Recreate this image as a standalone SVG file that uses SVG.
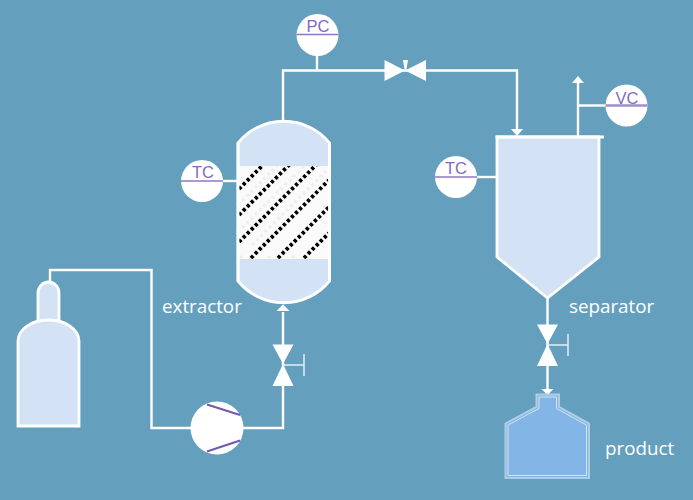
<svg xmlns="http://www.w3.org/2000/svg" width="693" height="500" viewBox="0 0 693 500">
<style>
.pipe{fill:none;stroke:#fff;stroke-width:2.4}
.vessel{fill:#d3e3f5;stroke:#fff;stroke-width:2.8}
.w{fill:#fff}
.lbl{font-family:"Open Sans","Noto Sans",sans-serif;font-size:18.800px;fill:#fff}
.inst{font-family:"Liberation Sans",Arial,sans-serif;font-size:16.500px;fill:#7f6bbd;text-anchor:middle}
.bar{stroke:#8d78c0;stroke-width:1.5;fill:none}
.dots{stroke:#000;stroke-width:3.8;stroke-dasharray:3.2 2.5;fill:none}
.ghost{stroke:#eee;stroke-width:3;stroke-dasharray:3 3;fill:none}
.stem{stroke:#e4eef6;stroke-width:1.5;fill:none}
</style>
<defs><clipPath id="pack"><rect x="238" y="166" width="91" height="93"/></clipPath></defs>
<rect width="693" height="500" fill="#659fbe"/>
<g id="connectors">
<path class="pipe" d="M50 284V270H151.500V428H192"/>
<path class="pipe" d="M243 428H283V312"/>
<path class="w" d="M276.500 311L283 304.500L289.500 311Z"/>
<path class="pipe" d="M283 122V70.500H517V130"/>
<path class="w" d="M511 129H523L517 136Z"/>
<path class="pipe" d="M317 50V70.500"/>
<path class="pipe" d="M578 136V81"/>
<path class="w" d="M572 83L578 76L584 83Z"/>
<path class="pipe" d="M578 105.500H606"/>
<path class="pipe" d="M222 181H238"/>
<path class="pipe" d="M475 177H497"/>
<path class="pipe" d="M547.500 298V390"/>
<path class="w" d="M541.500 389H553.500L547.500 395Z"/>
</g>
<g id="extractor">
<path class="vessel" d="M238 143A59 59 0 0 1 329.500 143V281A59 59 0 0 1 238 281Z"/>
<rect x="238.500" y="166" width="90" height="93" fill="#fafafa"/>
<g clip-path="url(#pack)">
<path class="ghost" d="M238 205L277 166M238 232L304 166M252 245L331 166M240 256L243 259M268 256L271 259M292 256L295 259M320 190L329 181"/>
<path class="dots" d="M239 189L262 166M239 215L290 164M239 242L317 164M251 258L329 180M278 258L329 207M304 258L329 233"/>
</g>
<path d="M238 143V281M329.500 143V281" fill="none" stroke="#fff" stroke-width="2.800"/>
<text class="lbl" x="162" y="313">extractor</text>
</g>
<g id="separator">
<path class="vessel" d="M497 137H599V257L547.500 298L497 257Z"/>
<path d="M495.500 137H604" stroke="#fff" stroke-width="2.800" fill="none"/>
<text class="lbl" x="569" y="313">separator</text>
</g>
<g id="cylinder">
<path class="vessel" d="M38 320V293A10.500 11 0 0 1 59 293V320"/>
<path class="vessel" d="M18 426V341A30.500 21 0 0 1 79 341V426Z"/>
</g>
<g id="product">
<path d="M505.500 478V423.500L536.500 407V394.500H559V407L589 423.500V478Z" fill="#83b6e6" stroke="#b0cee3" stroke-width="2"/>
<path d="M508 475.500V425L539 408.500V397H556.500V408.500L586.500 425V475.500Z" fill="none" stroke="#d3e3f0" stroke-width="1"/>
<text class="lbl" x="605" y="455">product</text>
</g>
<g id="pump">
<circle cx="217" cy="428" r="26.500" fill="#fff"/>
<path d="M207 404.500L240 415M207 451.500L240 440.500" stroke="#7258b0" stroke-width="2" fill="none"/>
</g>
<g id="valve-feed">
<path class="w" d="M272.500 344.500H293.500L283 364L293.500 386H272.500L283 364Z"/>
<path class="stem" d="M283 365H304M304 354V376"/>
</g>
<g id="valve-pressure">
<path class="w" d="M384.500 60L405 70.500L384.500 81ZM426 60L405 70.500L426 81Z"/>
<path class="w" d="M403 60H408L406.500 69H404.500Z"/>
</g>
<g id="valve-product">
<path class="w" d="M537 324.500H558L547.500 344L558 366H537L547.500 344Z"/>
<path class="stem" d="M547.500 345H568M568 334V356"/>
</g>
<g id="pc">
<circle cx="317.500" cy="35" r="21" fill="#fff"/>
<path class="bar" d="M296.500 34.500H338.500"/>
<text class="inst" x="318" y="32">PC</text>
</g>
<g id="tc-extractor">
<circle cx="202" cy="181" r="21" fill="#fff"/>
<path class="bar" d="M181 181H223"/>
<text class="inst" x="203" y="177.500">TC</text>
</g>
<g id="tc-separator">
<circle cx="456" cy="177" r="21" fill="#fff"/>
<path class="bar" d="M435 177H477"/>
<text class="inst" x="456" y="174">TC</text>
</g>
<g id="vc">
<circle cx="626.500" cy="105.500" r="21" fill="#fff"/>
<path d="M605.500 105.500H647.500" fill="none" stroke="#9d8fc8" stroke-width="2.500"/>
<text class="inst" x="627" y="103.500">VC</text>
</g>
</svg>
